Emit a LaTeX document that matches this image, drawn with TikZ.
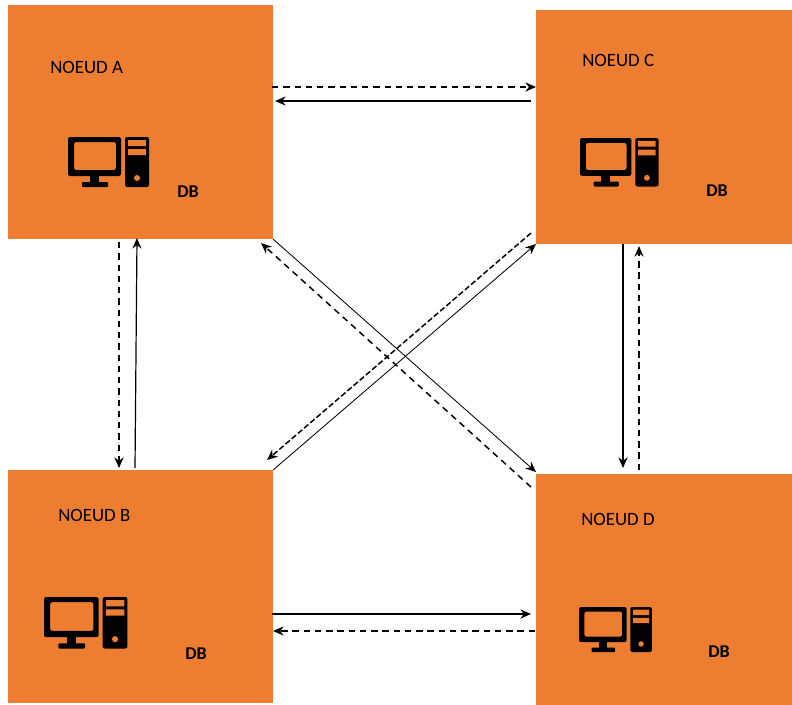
\documentclass[tikz,border=0pt]{standalone}
\usepackage{fontspec}
\setmainfont{Carlito}
\usetikzlibrary{arrows.meta}
\definecolor{noeudorange}{HTML}{ED7D31}
\tikzset{
  noeud/.style={fill=noeudorange, inner sep=0pt, outer sep=0pt, anchor=north west},
  noeudlabel/.style={anchor=west, inner sep=0pt, font=\fontsize{13.4}{14}\selectfont},
  dblabel/.style={anchor=west, inner sep=0pt, font=\fontsize{12.8}{14}\selectfont\bfseries},
  solidlink/.style={-{Stealth[length=7.5pt, width=6.5pt]}, line width=0.85pt},
  dashedlink/.style={-{Stealth[length=7.5pt, width=6.5pt]}, line width=1.05pt, dash pattern=on 4.5pt off 3.5pt},
  thinlink/.style={solidlink, line width=0.6pt},
  pics/pccomputer/.style={code={
    \fill[even odd rule, rounded corners=1.5pt] (0,0) rectangle (53,39) (6,5) rectangle (48,33);
    \fill (22,38) rectangle (31,46);
    \fill[rounded corners=0.7pt] (14,45) rectangle (40,50);
    \fill[even odd rule, rounded corners=1.5pt] (57,0) rectangle (81,50);
    \fill[noeudorange] (60,3) rectangle (78,9) (60,12) rectangle (78,18) (69,41) circle (3);
  }}
}
\begin{document}
\begin{tikzpicture}[>=Stealth, x=0.025cm, y=-0.025cm]
  \useasboundingbox (0,0) rectangle (792,705);

  % Boxes
  \node[noeud, minimum width=6.625cm, minimum height=5.85cm] (noeudA) at (8,5) {};
  \node[noeud, minimum width=6.4cm, minimum height=5.85cm] (noeudC) at (536,10) {};
  \node[noeud, minimum width=6.625cm, minimum height=5.825cm] (noeudB) at (8,470) {};
  \node[noeud, minimum width=6.4cm, minimum height=5.775cm] (noeudD) at (536,474) {};

  % Labels
  \node[noeudlabel] (labelA) at (50,67) {NOEUD A};
  \node[noeudlabel] (labelC) at (582,60) {NOEUD C};
  \node[noeudlabel] (labelB) at (58,515) {NOEUD B};
  \node[noeudlabel] (labelD) at (581,519) {NOEUD D};
  \node[dblabel] (dbA) at (177,192) {DB};
  \node[dblabel] (dbC) at (706,191) {DB};
  \node[dblabel] (dbB) at (185,654) {DB};
  \node[dblabel] (dbD) at (708,652) {DB};

  % Computers
  \pic at (68,137) {pccomputer};
  \pic[scale=0.97] at (580,138) {pccomputer};
  \pic[scale=1.03] at (44,597) {pccomputer};
  \pic[scale=0.9] at (579,607) {pccomputer};

  % A and C
  \draw[dashedlink] ([shift={(-1,82)}]noeudA.north east) -- ([shift={(0,77)}]noeudC.north west);
  \draw[solidlink] ([shift={(-5,91)}]noeudC.north west) -- ([shift={(2,96)}]noeudA.north east);

  % A and B
  \draw[dashedlink] ([shift={(111,3)}]noeudA.south west) -- ([shift={(111,-2)}]noeudB.north west);
  \draw[solidlink] ([shift={(127,-2)}]noeudB.north west) -- ([shift={(129,-1)}]noeudA.south west);

  % C and D
  \draw[solidlink] ([shift={(87,0)}]noeudC.south west) -- ([shift={(87,-6)}]noeudD.north west);
  \draw[dashedlink] ([shift={(103,-4)}]noeudD.north west) -- ([shift={(103,2)}]noeudC.south west);

  % B and D
  \draw[solidlink] ([shift={(-1,144)}]noeudB.north east) -- ([shift={(-5,140)}]noeudD.north west);
  \draw[dashedlink] ([shift={(-1,157)}]noeudD.north west) -- ([shift={(0,161)}]noeudB.north east);

  % Diagonals
  \draw[thinlink] (noeudA.south east) -- ([shift={(0,-2)}]noeudD.north west);
  \draw[dashedlink] ([shift={(-5,13)}]noeudD.north west) -- ([shift={(-12,4)}]noeudA.south east);
  \draw[thinlink] (noeudB.north east) -- (noeudC.south west);
  \draw[dashedlink, dash pattern=on 4pt off 1.8pt] ([shift={(-5,-11)}]noeudC.south west) -- ([shift={(-6,-10)}]noeudB.north east);
\end{tikzpicture}
\end{document}
